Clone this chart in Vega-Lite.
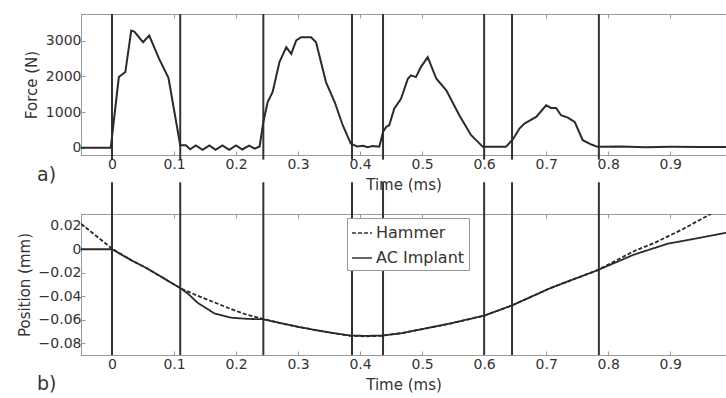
{
  "$schema": "https://vega.github.io/schema/vega-lite/v6.json",
  "padding": {"left": 16, "top": 12, "right": 0, "bottom": 0},
  "background": "white",
  "datasets": {
    "events": [{"t": 0}, {"t": 0.11}, {"t": 0.244}, {"t": 0.387}, {"t": 0.437}, {"t": 0.6}, {"t": 0.645}, {"t": 0.785}],
    "force": [
      {"t": -0.05, "F": 0}, {"t": -0.002, "F": 5}, {"t": 0.011, "F": 1983}, {"t": 0.0215, "F": 2123},
      {"t": 0.031, "F": 3287}, {"t": 0.036, "F": 3258}, {"t": 0.05, "F": 2960}, {"t": 0.06, "F": 3147},
      {"t": 0.076, "F": 2494}, {"t": 0.091, "F": 1964}, {"t": 0.11, "F": 75}, {"t": 0.119, "F": 75},
      {"t": 0.126, "F": -40}, {"t": 0.135, "F": 70}, {"t": 0.146, "F": -55}, {"t": 0.157, "F": 70},
      {"t": 0.167, "F": -55}, {"t": 0.178, "F": 70}, {"t": 0.189, "F": -55}, {"t": 0.2, "F": 70},
      {"t": 0.21, "F": -45}, {"t": 0.221, "F": 60}, {"t": 0.23, "F": -20}, {"t": 0.238, "F": 40},
      {"t": 0.244, "F": 726}, {"t": 0.251, "F": 1285}, {"t": 0.259, "F": 1564}, {"t": 0.27, "F": 2402},
      {"t": 0.281, "F": 2821}, {"t": 0.289, "F": 2634}, {"t": 0.297, "F": 3008}, {"t": 0.305, "F": 3100},
      {"t": 0.321, "F": 3100}, {"t": 0.329, "F": 2960}, {"t": 0.345, "F": 1843}, {"t": 0.359, "F": 1285},
      {"t": 0.372, "F": 634}, {"t": 0.385, "F": 120}, {"t": 0.395, "F": 40}, {"t": 0.405, "F": 60},
      {"t": 0.412, "F": 20}, {"t": 0.42, "F": 50}, {"t": 0.431, "F": 30}, {"t": 0.437, "F": 447},
      {"t": 0.442, "F": 587}, {"t": 0.447, "F": 634}, {"t": 0.455, "F": 1098}, {"t": 0.466, "F": 1377},
      {"t": 0.477, "F": 1936}, {"t": 0.482, "F": 2030}, {"t": 0.49, "F": 1983}, {"t": 0.498, "F": 2262},
      {"t": 0.509, "F": 2542}, {"t": 0.523, "F": 1936}, {"t": 0.539, "F": 1611}, {"t": 0.56, "F": 913},
      {"t": 0.579, "F": 355}, {"t": 0.598, "F": 28}, {"t": 0.635, "F": 28}, {"t": 0.646, "F": 230},
      {"t": 0.657, "F": 540}, {"t": 0.665, "F": 680}, {"t": 0.679, "F": 820}, {"t": 0.684, "F": 866},
      {"t": 0.7, "F": 1192}, {"t": 0.708, "F": 1117}, {"t": 0.716, "F": 1117}, {"t": 0.724, "F": 913},
      {"t": 0.735, "F": 847}, {"t": 0.746, "F": 726}, {"t": 0.759, "F": 215}, {"t": 0.773, "F": 93},
      {"t": 0.783, "F": 28}, {"t": 0.82, "F": 40}, {"t": 0.86, "F": 20}, {"t": 0.9, "F": 30},
      {"t": 0.95, "F": 25}, {"t": 0.99, "F": 25}
    ],
    "position": [
      {"t": -0.05, "p": 0.0217, "s": "Hammer"}, {"t": 0.0, "p": 0.0005, "s": "Hammer"},
      {"t": 0.031, "p": -0.0093, "s": "Hammer"}, {"t": 0.057, "p": -0.0164, "s": "Hammer"},
      {"t": 0.084, "p": -0.0249, "s": "Hammer"}, {"t": 0.111, "p": -0.0334, "s": "Hammer"},
      {"t": 0.138, "p": -0.0395, "s": "Hammer"}, {"t": 0.165, "p": -0.0452, "s": "Hammer"},
      {"t": 0.19, "p": -0.0505, "s": "Hammer"}, {"t": 0.215, "p": -0.0553, "s": "Hammer"},
      {"t": 0.243, "p": -0.0593, "s": "Hammer"}, {"t": 0.273, "p": -0.063, "s": "Hammer"},
      {"t": 0.3, "p": -0.066, "s": "Hammer"}, {"t": 0.326, "p": -0.0686, "s": "Hammer"},
      {"t": 0.355, "p": -0.0712, "s": "Hammer"}, {"t": 0.385, "p": -0.0737, "s": "Hammer"},
      {"t": 0.41, "p": -0.0741, "s": "Hammer"}, {"t": 0.434, "p": -0.0737, "s": "Hammer"},
      {"t": 0.466, "p": -0.0715, "s": "Hammer"}, {"t": 0.5, "p": -0.068, "s": "Hammer"},
      {"t": 0.547, "p": -0.063, "s": "Hammer"}, {"t": 0.6, "p": -0.0565, "s": "Hammer"},
      {"t": 0.644, "p": -0.048, "s": "Hammer"}, {"t": 0.708, "p": -0.0328, "s": "Hammer"},
      {"t": 0.783, "p": -0.0178, "s": "Hammer"}, {"t": 0.842, "p": -0.0015, "s": "Hammer"},
      {"t": 0.875, "p": 0.0055, "s": "Hammer"}, {"t": 0.92, "p": 0.017, "s": "Hammer"},
      {"t": 0.966, "p": 0.0302, "s": "Hammer"},
      {"t": -0.05, "p": 0.0, "s": "AC Implant"}, {"t": 0.0, "p": 0.0, "s": "AC Implant"},
      {"t": 0.031, "p": -0.0093, "s": "AC Implant"}, {"t": 0.057, "p": -0.0164, "s": "AC Implant"},
      {"t": 0.084, "p": -0.0249, "s": "AC Implant"}, {"t": 0.111, "p": -0.0334, "s": "AC Implant"},
      {"t": 0.122, "p": -0.0376, "s": "AC Implant"}, {"t": 0.138, "p": -0.0455, "s": "AC Implant"},
      {"t": 0.165, "p": -0.0546, "s": "AC Implant"}, {"t": 0.191, "p": -0.0582, "s": "AC Implant"},
      {"t": 0.219, "p": -0.0593, "s": "AC Implant"}, {"t": 0.243, "p": -0.0595, "s": "AC Implant"},
      {"t": 0.273, "p": -0.063, "s": "AC Implant"}, {"t": 0.3, "p": -0.066, "s": "AC Implant"},
      {"t": 0.326, "p": -0.0686, "s": "AC Implant"}, {"t": 0.355, "p": -0.0712, "s": "AC Implant"},
      {"t": 0.385, "p": -0.0735, "s": "AC Implant"}, {"t": 0.41, "p": -0.0737, "s": "AC Implant"},
      {"t": 0.434, "p": -0.0735, "s": "AC Implant"}, {"t": 0.466, "p": -0.0715, "s": "AC Implant"},
      {"t": 0.5, "p": -0.068, "s": "AC Implant"}, {"t": 0.547, "p": -0.063, "s": "AC Implant"},
      {"t": 0.6, "p": -0.0565, "s": "AC Implant"}, {"t": 0.644, "p": -0.048, "s": "AC Implant"},
      {"t": 0.708, "p": -0.0328, "s": "AC Implant"}, {"t": 0.783, "p": -0.0178, "s": "AC Implant"},
      {"t": 0.842, "p": -0.0045, "s": "AC Implant"}, {"t": 0.896, "p": 0.0047, "s": "AC Implant"},
      {"t": 0.94, "p": 0.009, "s": "AC Implant"}, {"t": 0.99, "p": 0.014, "s": "AC Implant"}
    ]
  },
  "config": {
    "view": {"stroke": "#999", "strokeWidth": 1},
    "font": "DejaVu Sans",
    "axis": {
      "labelFont": "DejaVu Sans", "labelFontSize": 14, "labelColor": "#333",
      "titleFont": "DejaVu Sans", "titleFontSize": 15, "titleFontWeight": "normal", "titleColor": "#333",
      "domainColor": "#999", "tickColor": "#999", "tickSize": -4, "grid": false, "labelPadding": 6,
      "labelOverlap": false
    },
    "title": {"font": "DejaVu Sans", "fontSize": 19, "fontWeight": "normal", "color": "#333"},
    "legend": {
      "labelFont": "DejaVu Sans", "labelFontSize": 16, "labelColor": "#333"
    }
  },
  "vconcat": [
    {
      "width": 645,
      "height": 141,
      "title": {"text": "a)", "orient": "bottom", "anchor": "start", "frame": "group", "dx": -44, "dy": -30},
      "layer": [
        {
          "data": {"name": "events"},
          "mark": {"type": "rule", "color": "#333", "strokeWidth": 2},
          "encoding": {
            "x": {"field": "t", "type": "quantitative",
              "scale": {"domain": [-0.05, 0.99], "nice": false, "zero": false},
              "axis": {"values": [0, 0.1, 0.2, 0.3, 0.4, 0.5, 0.6, 0.7, 0.8, 0.9], "format": "~g", "title": "Time (ms)", "titlePadding": 6, "labelOverlap": false}},
            "y": {"datum": -330, "type": "quantitative",
              "scale": {"domain": [-200, 3750], "nice": false, "zero": false},
              "axis": {"values": [0, 1000, 2000, 3000], "format": "d", "title": "Force (N)", "titlePadding": 6, "labelPadding": 4, "labelOverlap": false}},
            "y2": {"datum": 3750}
          }
        },
        {
          "data": {"name": "force"},
          "mark": {"type": "line", "color": "#2a2a2a", "strokeWidth": 2, "clip": true},
          "encoding": {
            "x": {"field": "t", "type": "quantitative",
              "axis": {"orient": "top", "values": [0, 0.1, 0.2, 0.3, 0.4, 0.5, 0.6, 0.7, 0.8, 0.9], "labels": false, "domain": false, "title": null}},
            "y": {"field": "F", "type": "quantitative",
              "axis": {"values": [0, 1000, 2000, 3000], "format": "d", "title": "Force (N)", "titlePadding": 6, "labelPadding": 4, "labelOverlap": false}}
          }
        }
      ],
      "resolve": {"axis": {"x": "independent"}}
    },
    {
      "width": 645,
      "height": 141,
      "title": {"text": "b)", "orient": "bottom", "anchor": "start", "frame": "group", "dx": -44, "dy": -21},
      "layer": [
        {
          "data": {"name": "events"},
          "mark": {"type": "rule", "color": "#333", "strokeWidth": 2},
          "encoding": {
            "x": {"field": "t", "type": "quantitative",
              "scale": {"domain": [-0.05, 0.99], "nice": false, "zero": false},
              "axis": {"values": [0, 0.1, 0.2, 0.3, 0.4, 0.5, 0.6, 0.7, 0.8, 0.9], "format": "~g", "title": "Time (ms)", "titlePadding": 6, "labelOverlap": false}},
            "y": {"datum": -0.09, "type": "quantitative",
              "scale": {"domain": [-0.09, 0.03], "nice": false, "zero": false},
              "axis": {"values": [-0.08, -0.06, -0.04, -0.02, 0, 0.02], "format": "~g", "title": "Position (mm)", "titlePadding": 6, "labelPadding": 4, "labelOverlap": false}},
            "y2": {"datum": 0.057}
          }
        },
        {
          "data": {"name": "position"},
          "mark": {"type": "line", "color": "#2a2a2a", "strokeWidth": 1.8, "clip": true},
          "encoding": {
            "x": {"field": "t", "type": "quantitative",
              "axis": {"orient": "top", "values": [0, 0.1, 0.2, 0.3, 0.4, 0.5, 0.6, 0.7, 0.8, 0.9], "labels": false, "domain": false, "title": null}},
            "y": {"field": "p", "type": "quantitative",
              "axis": {"values": [-0.08, -0.06, -0.04, -0.02, 0, 0.02], "format": "~g", "title": "Position (mm)", "titlePadding": 6, "labelPadding": 4, "labelOverlap": false}},
            "strokeDash": {"field": "s", "type": "nominal",
              "scale": {"domain": ["Hammer", "AC Implant"], "range": [[4, 2], [1, 0]]},
              "legend": {"title": null, "orient": "none", "legendX": 266, "legendY": 204,
                "symbolType": "stroke", "symbolSize": 400, "symbolStrokeColor": "#333", "symbolStrokeWidth": 1.5,
                "fillColor": "white", "strokeColor": "#999", "padding": 4, "rowPadding": 6, "labelOffset": 3}}
          }
        }
      ],
      "resolve": {"axis": {"x": "independent"}}
    }
  ],
  "spacing": 59,
  "bounds": "flush"
}
